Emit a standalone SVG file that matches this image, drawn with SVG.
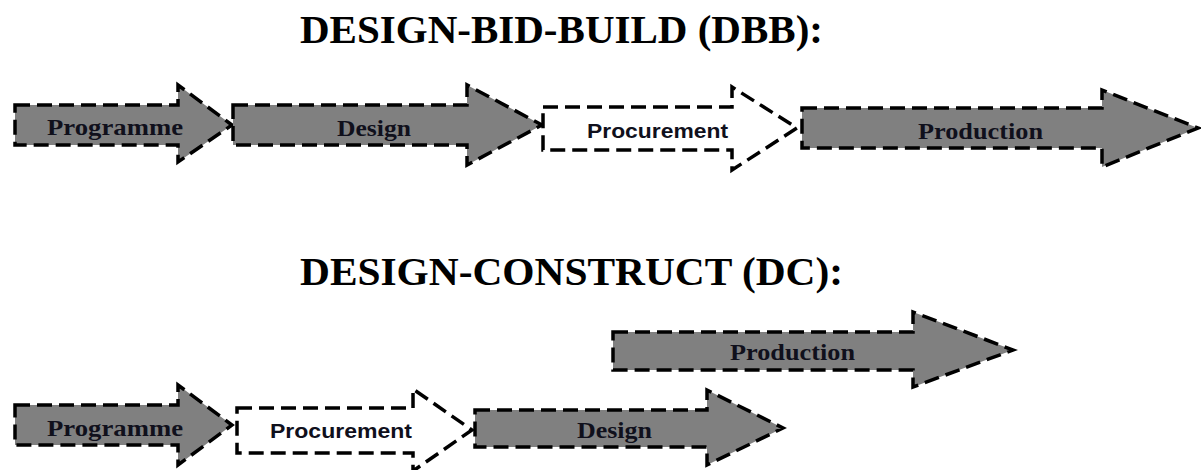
<svg xmlns="http://www.w3.org/2000/svg" width="1201" height="470" viewBox="0 0 1201 470">
<style>
.title{font-family:"Liberation Serif","Times New Roman",serif;font-weight:bold;font-size:39px;fill:#000}
.gray{fill:#808080;stroke:#000;stroke-width:3.5;stroke-dasharray:15 7;stroke-linejoin:miter}
.white{fill:#fff;stroke:#000;stroke-width:3.5;stroke-dasharray:15 7;stroke-linejoin:miter}
.lbl{font-family:"Liberation Serif","Times New Roman",serif;font-weight:bold;font-size:23px;fill:#10101c}
.lbls{font-family:"Liberation Sans",Arial,sans-serif;font-weight:bold;font-size:20px;fill:#10101c}
</style>
<rect width="1201" height="470" fill="#fff"/>
<text class="title" x="300" y="43" textLength="523" lengthAdjust="spacingAndGlyphs">DESIGN-BID-BUILD  (DBB):</text>
<text class="title" x="300" y="285" textLength="543" lengthAdjust="spacingAndGlyphs">DESIGN-CONSTRUCT  (DC):</text>
<g id="dbb-programme">
<path class="gray" d="M15,105 L178,105 L178,85 L232,125 L178,162 L178,145 L15,145 Z"/>
<text class="lbl" x="47" y="135" textLength="136" lengthAdjust="spacingAndGlyphs">Programme</text>
</g>
<g id="dbb-design">
<path class="gray" d="M233,105 L467,105 L467,85 L542,125 L467,165 L467,145 L233,145 Z"/>
<text class="lbl" x="337" y="136" textLength="74" lengthAdjust="spacingAndGlyphs">Design</text>
</g>
<g id="dbb-procurement">
<path class="white" d="M543,107 L732,107 L732,87 L797,128 L732,170 L732,150 L543,150 Z"/>
<text class="lbls" x="587" y="138" textLength="141" lengthAdjust="spacingAndGlyphs">Procurement</text>
</g>
<g id="dbb-production">
<path class="gray" d="M802,108 L1102,108 L1102,90 L1198,128 L1102,167 L1102,148 L802,148 Z"/>
<text class="lbl" x="918" y="139" textLength="125" lengthAdjust="spacingAndGlyphs">Production</text>
</g>
<g id="dc-programme">
<path class="gray" d="M15,405 L178,405 L178,385 L232,425 L178,465 L178,445 L15,445 Z"/>
<text class="lbl" x="47" y="436" textLength="136" lengthAdjust="spacingAndGlyphs">Programme</text>
</g>
<g id="dc-procurement">
<path class="white" d="M237,408 L413,408 L413,389 L472,430 L413,471 L413,453 L237,453 Z"/>
<text class="lbls" x="270" y="438" textLength="142" lengthAdjust="spacingAndGlyphs">Procurement</text>
</g>
<g id="dc-design">
<path class="gray" d="M475,410 L707,410 L707,390 L783,428 L707,465 L707,447 L475,447 Z"/>
<text class="lbl" x="577" y="438" textLength="75" lengthAdjust="spacingAndGlyphs">Design</text>
</g>
<g id="dc-production">
<path class="gray" d="M613,332 L913,332 L913,312 L1013,350 L913,387 L913,370 L613,370 Z"/>
<text class="lbl" x="730" y="360" textLength="125" lengthAdjust="spacingAndGlyphs">Production</text>
</g>
<g id="connectors"/>
</svg>
